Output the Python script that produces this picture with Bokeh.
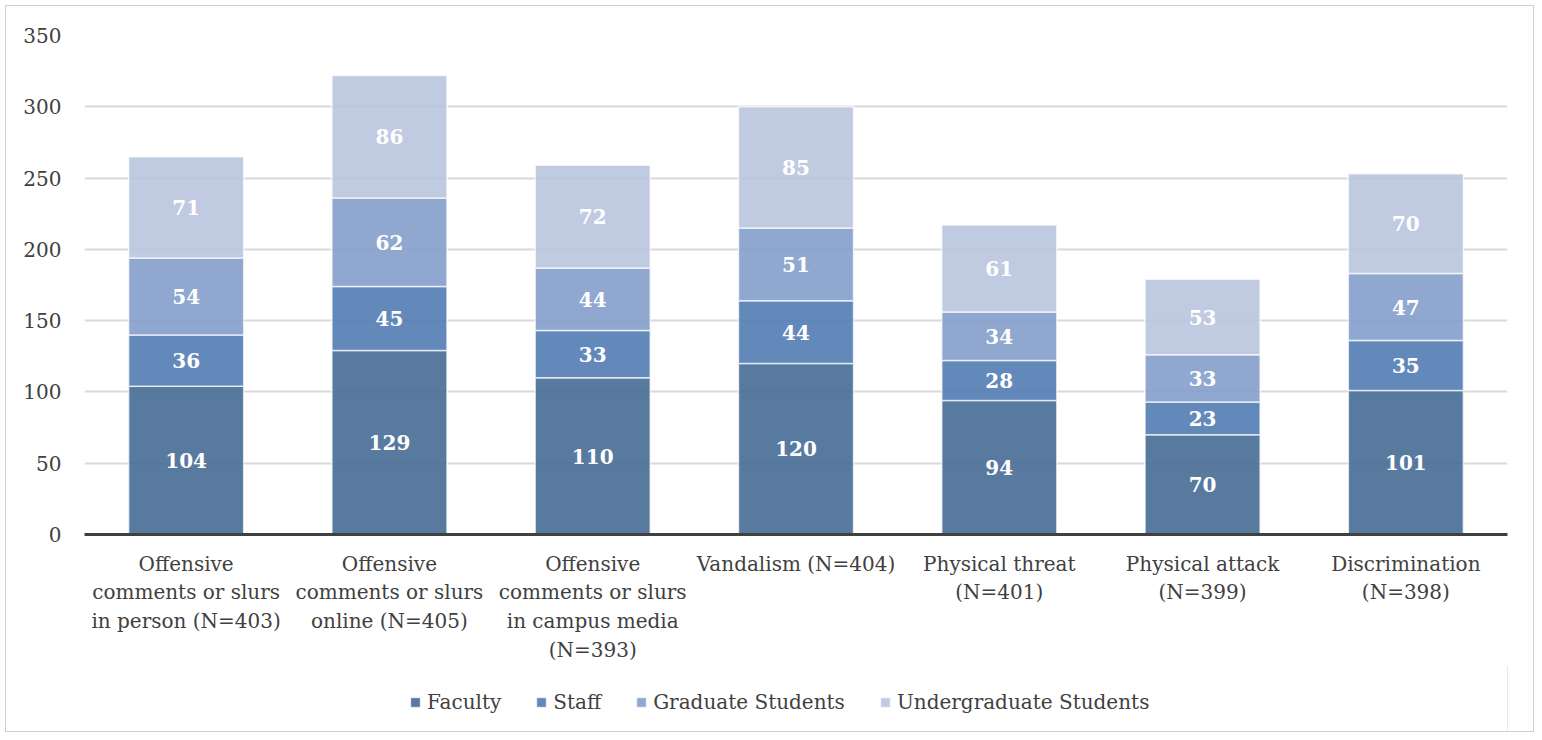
from bokeh.plotting import figure
from bokeh.layouts import column
from bokeh.models import ColumnDataSource, Legend, LegendItem, Range1d, FactorRange
from bokeh.core.properties import value
from bokeh.embed import file_html
from bokeh.resources import INLINE

categories = [
    "Offensive\ncomments or slurs\nin person (N=403)",
    "Offensive\ncomments or slurs\nonline (N=405)",
    "Offensive\ncomments or slurs\nin campus media\n(N=393)",
    "Vandalism (N=404)",
    "Physical threat\n(N=401)",
    "Physical attack\n(N=399)",
    "Discrimination\n(N=398)",
]
series_names = ["Faculty", "Staff", "Graduate Students", "Undergraduate Students"]
faculty = [104, 129, 110, 120, 94, 70, 101]
staff = [36, 45, 33, 44, 28, 23, 35]
graduate = [54, 62, 44, 51, 34, 33, 47]
undergraduate = [71, 86, 72, 85, 61, 53, 70]
y_ticks = [0, 50, 100, 150, 200, 250, 300, 350]

colors = ["#476b95", "#527cb3", "#849ecb", "#b9c5df"]
FONT = "DejaVu Serif"
FS = "20px"

keys = ["faculty", "staff", "graduate", "undergraduate"]
data = {"cat": categories, "faculty": faculty, "staff": staff,
        "graduate": graduate, "undergraduate": undergraduate}
src = ColumnDataSource(data)

p = figure(x_range=FactorRange(*categories, range_padding=0),
           y_range=Range1d(0, 350),
           width=1527, height=660, output_backend="svg", toolbar_location=None,
           min_border_left=78, min_border_right=26, min_border_top=29,
           min_border_bottom=132)
p.outline_line_color = None

renderers = p.vbar_stack(keys, x="cat", width=0.566, source=src, color=colors,
                         fill_alpha=0.9, line_color="white", line_alpha=0.7,
                         line_width=1.5)

# segment labels
for i, k in enumerate(keys):
    ys, labs = [], []
    for j in range(len(categories)):
        base = sum(data[keys[m]][j] for m in range(i))
        ys.append(base + data[k][j] / 2)
        labs.append(str(data[k][j]))
    p.text(x=categories, y=ys, text=labs, text_align="center",
           text_baseline="middle", text_color="white",
           text_font=value(FONT), text_font_style="bold", text_font_size=FS)

p.xgrid.grid_line_color = None
p.ygrid.grid_line_color = "#d9d9d9"
p.ygrid.grid_line_width = 2
p.ygrid.ticker = y_ticks

p.yaxis.ticker = y_ticks
p.yaxis.axis_line_color = None
p.yaxis.major_tick_line_color = None
p.yaxis.minor_tick_line_color = None
p.yaxis.major_tick_out = 0
p.yaxis.minor_tick_out = 0
p.yaxis.major_label_standoff = 23
p.yaxis.major_label_text_font = FONT
p.yaxis.major_label_text_font_size = FS
p.yaxis.major_label_text_color = "#404040"

p.xaxis.axis_line_color = "#404040"
p.xaxis.axis_line_width = 3
p.xaxis.major_tick_line_color = None
p.xaxis.major_tick_out = 0
p.xaxis.major_label_standoff = 17
p.xaxis.major_label_text_font = FONT
p.xaxis.major_label_text_font_size = FS
p.xaxis.major_label_text_color = "#404040"

# legend strip
p2 = figure(width=1527, height=65, output_backend="svg", toolbar_location=None,
            x_range=Range1d(0, 1), y_range=Range1d(0, 1),
            x_axis_location=None, y_axis_location=None,
            min_border_left=0, min_border_right=0, min_border_top=0,
            min_border_bottom=0)
p2.outline_line_color = None
p2.grid.grid_line_color = None
items = []
for name, c in zip(series_names, colors):
    r = p2.vbar(x=[5], top=[5], width=0.1, color=c, fill_alpha=0.9,
                line_color="white", line_alpha=0.7)
    items.append(LegendItem(label=name, renderers=[r]))
legend = Legend(items=items, orientation="horizontal", location=(325, 17),
                label_text_font=FONT, label_text_font_size=FS,
                label_text_color="#404040", glyph_width=12, glyph_height=12,
                label_standoff=6, spacing=34, border_line_color=None,
                background_fill_alpha=0, padding=4)
p2.add_layout(legend, "center")

layout = column(p, p2, spacing=0)
layout.styles = {"border": "1.5px solid #cfcfcf", "margin": "5px 0 0 5px"}

open("out.html", "w").write(file_html(layout, INLINE))
